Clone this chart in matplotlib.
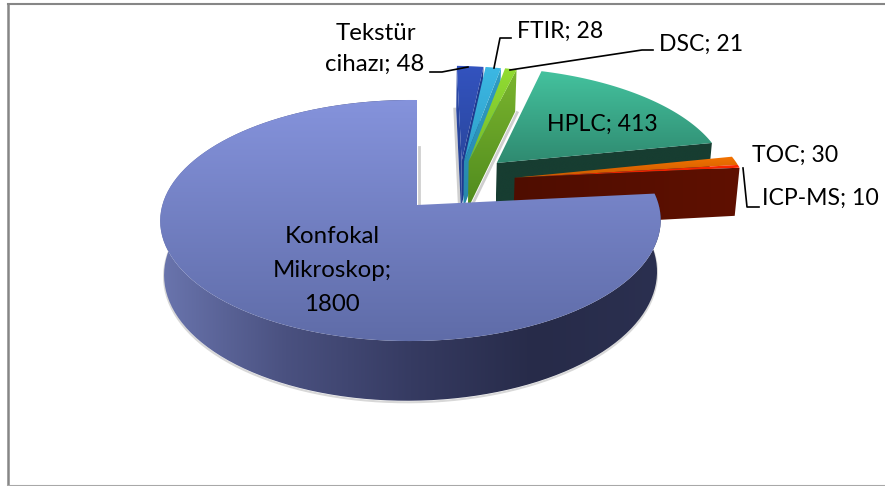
#!/usr/bin/env python3

import numpy as np
import matplotlib
matplotlib.use("Agg")
import matplotlib.pyplot as plt
from matplotlib.colors import to_rgb
from matplotlib.patches import Polygon

nomes = ["Tekstür", "FTIR", "DSC", "HPLC", "TOC", "ICP-MS", "Konfokal"]
valores = [48, 28, 21, 413, 30, 10, 1800]

# deslocamento de cada fatia no plano do disco (explode do Excel)
desloc_u = [0.19, 0.20, 0.22, 0.34, 0.41, 0.41, 0.0]
desloc_v = [0.39, 0.39, 0.39, 0.375, 0.24, 0.24, 0.0]

# projecao em perspectiva do disco
CX, CY = 417, 205
F, G = 248, 118.5
K, M = 0.1286, 0.026
ALTURA = 52

plt.rcParams["font.family"] = ["Lato", "DejaVu Sans"]

fig = plt.figure(figsize=(8.85, 4.86), dpi=100)
ax = fig.add_axes([0, 0, 1, 1])
ax.set_xlim(0, 885)
ax.set_ylim(486, 0)
ax.axis("off")

ordem = [10]


def proximo_z():
    ordem[0] += 1
    return ordem[0]


def projetar(u, v, h=0.0):
    w = 1 + K * v + M * u
    escala = 1 - 0.015 * h / ALTURA
    return CX + F * escala * u / w, CY - G * v / w + h / w


def pontos_arco(t0, t1, du, dv, h=0.0, n=120):
    t = np.radians(np.linspace(t0, t1, n))
    x, y = projetar(np.sin(t) + du, np.cos(t) + dv, h)
    return np.column_stack([x, y])


def preencher(pontos, cores, vertical=True):
    # gradiente recortado pelo poligono
    pontos = np.asarray(pontos)
    x0, y0 = pontos.min(axis=0)
    x1, y1 = pontos.max(axis=0)
    pos = np.linspace(0, 1, 256)
    stops = np.linspace(0, 1, len(cores))
    rgb = np.array([to_rgb(c) for c in cores])
    grad = np.column_stack([np.interp(pos, stops, rgb[:, i]) for i in range(3)])
    if vertical:
        grad = grad[:, np.newaxis, :]
    else:
        grad = grad[np.newaxis, :, :]
    z = proximo_z()
    img = ax.imshow(grad, extent=(x0, x1, y1, y0), aspect="auto", zorder=z,
                    interpolation="bilinear")
    contorno = Polygon(pontos, closed=True, transform=ax.transData)
    img.set_clip_path(contorno)
    ax.set_xlim(0, 885)
    ax.set_ylim(486, 0)


def face_corte(t, du, dv, cores, vertical=True, h=ALTURA):
    r = np.radians(t)
    a = projetar(du, dv)
    b = projetar(np.sin(r) + du, np.cos(r) + dv)
    c = projetar(np.sin(r) + du, np.cos(r) + dv, h)
    d = projetar(du, dv, h)
    preencher([a, b, c, d], cores, vertical)


def sombra_corte(t, du, dv, desvio=1.5, h=ALTURA):
    # sombra fina cinza atras da face de corte
    r = np.radians(t)
    xa, ya = projetar(np.sin(r) + du, np.cos(r) + dv, h)
    xb, yb = projetar(du, dv, h)
    ax.plot([xa + desvio, xb + desvio], [ya + 1, yb + 1], color="#cfcfcf", lw=2,
            zorder=proximo_z())


def topo(t0, t1, du, dv, cores):
    arco = pontos_arco(t0, t1, du, dv)
    preencher(np.vstack([[projetar(du, dv)], arco]), cores)


total = sum(valores)
inicio = np.cumsum([0] + valores[:-1]) / total * 360
fim = np.cumsum(valores) / total * 360

# moldura
ax.plot([8, 8], [486, 4], color="#868686", lw=1.8, zorder=1)
ax.plot([8, 885], [4, 4], color="#868686", lw=1.5, zorder=1)
ax.plot([8, 885], [485.5, 485.5], color="#a8a8a8", lw=1.5, zorder=1)

# fatias pequenas de tras
sombra_corte(inicio[0], desloc_u[0], desloc_v[0], desvio=-1.5, h=50)
sombra_corte(fim[2], desloc_u[2], desloc_v[2], desvio=2, h=50)
face_corte(fim[0], desloc_u[0], desloc_v[0], ["#1f3a8f", "#1f3a8f"], h=50)
face_corte(inicio[0], desloc_u[0], desloc_v[0], ["#2d4aa8", "#24408f"], h=52)
topo(inicio[0], fim[0], desloc_u[0], desloc_v[0], ["#3353bf", "#2a479f"])
face_corte(fim[1], desloc_u[1], desloc_v[1], ["#2f9cc4", "#2787aa"], h=50)
topo(inicio[1], fim[1], desloc_u[1], desloc_v[1], ["#3cb8e4", "#2f9fc8"])
face_corte(fim[2], desloc_u[2], desloc_v[2], ["#7bb52e", "#4f8a1e"], h=50)
topo(inicio[2], fim[2], desloc_u[2], desloc_v[2], ["#92dc32", "#76bb2c"])

# HPLC
face_corte(fim[3], desloc_u[3], desloc_v[3], ["#173d31", "#173d31"])
topo(inicio[3], fim[3], desloc_u[3], desloc_v[3], ["#44c29e", "#2f8a70"])

# TOC e ICP-MS
topo(inicio[4], fim[4], desloc_u[4], desloc_v[4], ["#f57300", "#c85a00"])
topo(inicio[5], fim[5], desloc_u[5], desloc_v[5], ["#ff2a00", "#d81e00"])
face_corte(fim[5], desloc_u[5], desloc_v[5], ["#4f0d00", "#5f1000"], vertical=False)

# Konfokal: parede e topo
sombra_corte(fim[6], 0, 0, desvio=2)
sup = pontos_arco(inicio[6], fim[6], desloc_u[6], desloc_v[6])
inf = pontos_arco(inicio[6], fim[6], desloc_u[6], desloc_v[6], ALTURA)
sombra = Polygon(inf + [0, 1.5], closed=False, fill=False, ec="#d8d8d8", lw=1.5,
                 zorder=proximo_z())
ax.add_patch(sombra)
preencher(np.vstack([sup, inf[::-1]]),
          ["#6a75ae", "#4a5180", "#363b62", "#272b49", "#2b3050"], vertical=False)
face_corte(fim[6], 0, 0, ["#5a649c", "#5a649c"], h=0.1)
topo(inicio[6], fim[6], desloc_u[6], desloc_v[6], ["#8593dc", "#5f6ca8"])

# linhas de chamada
linha = dict(color="black", lw=1.2, zorder=200)
ax.plot([430, 442, 468], [72, 72, 67], **linha)
ax.plot([511, 500, 494], [38, 38, 68], **linha)
ax.plot([653, 642, 510], [50, 50, 70], **linha)
ax.plot([743, 747, 759], [168, 207, 207], **linha)

# rotulos
fs = 16.6
fs_baixa = 17.3
estilo = dict(color="black", zorder=210, va="center")
ax.text(376, 33, nomes[0], ha="center", fontsize=fs_baixa, **estilo)
ax.text(375, 64, "cihazı; %d" % valores[0], ha="center", fontsize=fs_baixa, **estilo)
ax.text(517, 31, "%s; %d" % (nomes[1], valores[1]), ha="left", fontsize=fs, **estilo)
ax.text(659, 44, "%s; %d" % (nomes[2], valores[2]), ha="left", fontsize=fs, **estilo)
ax.text(602, 124, "%s; %d" % (nomes[3], valores[3]), ha="center", fontsize=fs, **estilo)
ax.text(752, 155, "%s; %d" % (nomes[4], valores[4]), ha="left", fontsize=fs, **estilo)
ax.text(762, 198, "%s; %d" % (nomes[5], valores[5]), ha="left", fontsize=fs, **estilo)
ax.text(332, 236, "Konfokal", ha="center", fontsize=fs_baixa, **estilo)
ax.text(332, 270, "Mikroskop;", ha="center", fontsize=fs_baixa, **estilo)
ax.text(332, 304, str(valores[6]), ha="center", fontsize=fs_baixa, **estilo)

fig.savefig("out.png", dpi=100)
